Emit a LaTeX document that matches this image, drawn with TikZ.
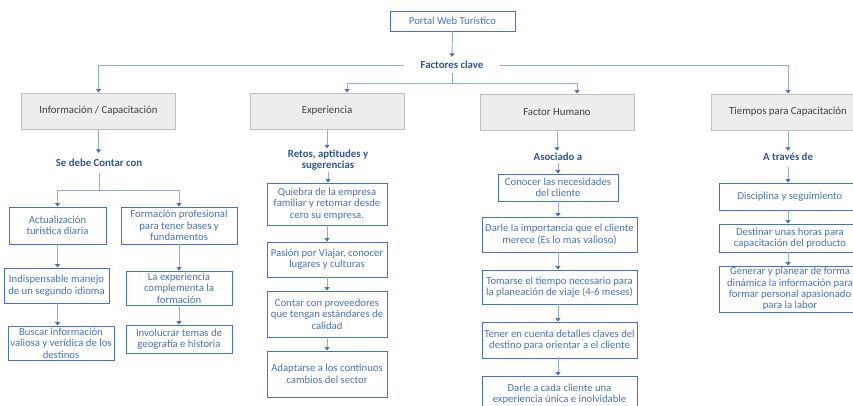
\documentclass[tikz,border=0pt]{standalone}
\usepackage{fontspec}
\setmainfont{Carlito}
\usetikzlibrary{arrows.meta,calc}
\definecolor{bxblue}{HTML}{4472C4}
\definecolor{lnblue}{HTML}{8FAADC}
\definecolor{lbblue}{HTML}{2F5597}
\definecolor{grayfill}{HTML}{EDEDED}
\definecolor{grayline}{HTML}{BFBFBF}
\definecolor{txgray}{HTML}{404040}
\tikzset{
  bx/.style={draw=bxblue, line width=0.9pt, fill=white, text=bxblue, align=center,
    inner sep=0pt, font=\fontsize{10.7}{11.4}\selectfont},
  topbx/.style={draw=grayline, line width=1pt, fill=grayfill, text=txgray, align=center,
    inner sep=0pt, minimum width=154, minimum height=36, font=\fontsize{10.8}{12}\selectfont},
  lbl/.style={text=lbblue, align=center, inner sep=1pt, font=\bfseries\fontsize{10.8}{11.5}\selectfont},
  conn/.style={draw=lnblue, line width=0.9pt, -{Triangle[width=5pt,length=3.5pt,color=bxblue]}},
  plain/.style={draw=lnblue, line width=0.9pt}
}
\begin{document}
\begin{tikzpicture}[x=1pt,y=-1pt]
\useasboundingbox (0,0) rectangle (853,405);
\clip (0,0) rectangle (853,405);
\fill[white] (0,0) rectangle (853,405);

% top
\node[bx, minimum width=125, minimum height=20] (portal) at (452.5,21) {Portal Web Turístico};
\node[lbl, minimum width=95, minimum height=16] (fc) at (452,65) {Factores clave};

% main categories
\node[topbx] (info) at (98.5,111) {Información / Capacitación};
\node[topbx] (exp) at (327,111) {Experiencia};
\node[topbx] (fh) at (557,112) {Factor Humano};
\node[topbx] (ti) at (788,112) {Tiempos para Capacitación};

% labels
\node[lbl, minimum height=20] (sdc) at (99,163) {Se debe Contar con};
\node[lbl] (retos) at (328,160) {Retos, aptitudes y\\sugerencias};
\node[lbl, minimum height=12] (asoc) at (558,157) {Asociado a};
\node[lbl, minimum height=12] (atr) at (788,157) {A través de};

% Info column
\node[bx, minimum width=97, minimum height=37] (a1) at (57.5,225.5) {Actualización\\turística diaria};
\node[bx, minimum width=116, minimum height=37] (b1) at (179,225.5) {Formación profesional\\para tener bases y\\fundamentos};
\node[bx, minimum width=105, minimum height=35] (a2) at (56.5,285.5) {Indispensable manejo\\de un segundo idioma};
\node[bx, minimum width=106, minimum height=34] (a3) at (61,343) {Buscar información\\valiosa y verídica de los\\destinos};
\node[bx, minimum width=106, minimum height=34] (b2) at (179,288) {La experiencia\\complementa la\\formación};
\node[bx, minimum width=106, minimum height=28] (b3) at (179,339) {Involucrar temas de\\geografía e historia};

% Experiencia column
\node[bx, minimum width=120, minimum height=42] (e1) at (327,204) {Quiebra de la empresa\\familiar y retomar desde\\cero su empresa.};
\node[bx, minimum width=120, minimum height=35] (e2) at (327,259.5) {Pasión por Viajar, conocer\\lugares y culturas};
\node[bx, minimum width=120, minimum height=46] (e3) at (327,314) {Contar con proveedores\\que tengan estándares de\\calidad};
\node[bx, minimum width=120, minimum height=46] (e4) at (327,374) {Adaptarse a los continuos\\cambios del sector};

% Factor Humano column
\node[bx, minimum width=120, minimum height=27] (f1) at (558,187.5) {Conocer las necesidades\\del cliente};
\node[bx, minimum width=155, minimum height=35] (f2) at (559.5,234.5) {Darle la importancia que el cliente\\merece (Es lo mas valioso)};
\node[bx, minimum width=155, minimum height=34] (f3) at (559.5,287) {Tomarse el tiempo necesario para\\la planeación de viaje (4-6 meses)};
\node[bx, minimum width=155, minimum height=36] (f4) at (559.5,340) {Tener en cuenta detalles claves del\\destino para orientar a el cliente};
\node[bx, minimum width=155, minimum height=36] (f5) at (559.5,394) {Darle a cada cliente una\\experiencia única e inolvidable};

% Tiempos column
\node[bx, minimum width=142, minimum height=27] (t1) at (790,196.5) {Disciplina y seguimiento};
\node[bx, minimum width=142, minimum height=28] (t2) at (790,238) {Destinar unas horas para\\capacitación del producto};
\node[bx, minimum width=142, minimum height=46] (t3) at (790,289) {Generar y planear de forma\\dinámica la información para\\formar personal apasionado\\para la labor};

% connectors top
\draw[conn] (portal.south) -- (fc.north);
\draw[conn] (fc.west) -| (info.north);
\draw[conn] (fc.east) -| (ti.north);
\coordinate (j1) at ($(fc.south)+(0,10)$);
\draw[plain] (fc.south) -- (j1);
\draw[conn] (j1) -| ($(exp.north)+(20,0)$);
\draw[conn] (j1) -| ($(fh.north)+(20,0)$);

% Info column connectors
\draw[conn] (info.south) -- (info.south |- sdc.north);
\coordinate (j2) at ($(sdc.south)+(0,17)$);
\draw[plain] (sdc.south) -- (j2);
\draw[conn] (j2) -| (a1.north);
\draw[conn] (j2) -| (b1.north);
\draw[conn] (a1.south) -- (a1.south |- a2.north);
\draw[conn] (a1.south |- a2.south) -- (a1.south |- a3.north);
\draw[conn] (b1.south) -- (b2.north);
\draw[conn] (b2.south) -- (b3.north);

% Experiencia connectors
\draw[conn] (exp.south) -- (exp.south |- retos.north);
\draw[conn] (retos.south) -- (retos.south |- e1.north);
\draw[conn] (e1.south) -- (e2.north);
\draw[conn] (e2.south) -- (e3.north);
\draw[conn] (e3.south) -- (e4.north);

% Factor Humano connectors
\draw[conn] (fh.south) -- (fh.south |- asoc.north);
\draw[conn] (asoc.south) -- (f1.north);
\draw[conn] (f1.south) -- (f1.south |- f2.north);
\draw[conn] (f1.south |- f2.south) -- (f1.south |- f3.north);
\draw[conn] (f1.south |- f3.south) -- (f1.south |- f4.north);
\draw[conn] (f1.south |- f4.south) -- (f1.south |- f5.north);

% Tiempos connectors
\draw[conn] (ti.south) -- (atr.north);
\draw[conn, shorten <=4pt] (atr.south) -- (atr.south |- t1.north);
\draw[conn] (atr.south |- t1.south) -- (atr.south |- t2.north);
\draw[conn] (atr.south |- t2.south) -- (atr.south |- t3.north);
\end{tikzpicture}
\end{document}
